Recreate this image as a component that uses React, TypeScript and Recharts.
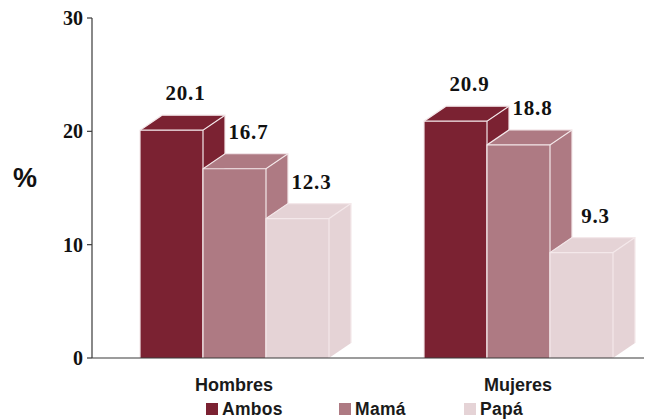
import React from 'react'
import { BarChart, Bar, XAxis, YAxis, Legend, LabelList } from 'recharts'

const groups = ['Hombres', 'Mujeres']
const ambos = [20.1, 20.9]
const mama = [16.7, 18.8]
const papa = [12.3, 9.3]
const yTicks = [0, 10, 20, 30]

const seriesKeys = ['ambos', 'mama', 'papa']
const seriesNames = ['Ambos', 'Mamá', 'Papá']
const seriesColors = ['#7B2232', '#AE7A83', '#E5D3D6']

const data = groups.map((g, i) => ({
  group: g,
  ambos: ambos[i],
  mama: mama[i],
  papa: papa[i],
}))

const SERIF = "'Liberation Serif', 'Times New Roman', serif"
const SANS = "'Liberation Sans', Arial, sans-serif"
const AXIS = '#3a3a3a'
const EDGE = '#F4E8EA'
const DX = 22
const DY = 15

// front face + top + right side, like the old excel 3d columns
const Bar3D = (props: any) => {
  const { x, y, width, height, fill } = props
  if (height == null || width == null) return null
  const r = x + width
  const b = y + height
  return (
    <g>
      <polygon
        points={`${r},${y} ${r + DX},${y - DY} ${r + DX},${b - DY} ${r},${b}`}
        fill={fill}
      />
      <polygon
        points={`${x},${y} ${x + DX},${y - DY} ${r + DX},${y - DY} ${r},${y}`}
        fill={fill}
      />
      <rect x={x} y={y} width={width} height={height} fill={fill} />
      <polyline
        points={`${x},${b} ${x},${y} ${x + DX},${y - DY} ${r + DX},${y - DY} ${r + DX},${b - DY}`}
        fill="none"
        stroke={EDGE}
        strokeWidth={1.2}
      />
      <polyline
        points={`${x},${y} ${r},${y} ${r + DX},${y - DY}`}
        fill="none"
        stroke={EDGE}
        strokeWidth={1.2}
      />
      <line x1={r} y1={y} x2={r} y2={b} stroke={EDGE} strokeWidth={1.2} />
    </g>
  )
}

const renderValue = (props: any) => {
  const { x, y, width, value } = props
  return (
    <text
      x={x + width / 2 + 14}
      y={y - 30}
      textAnchor="middle"
      fontFamily={SERIF}
      fontWeight={700}
      fontSize={21}
      letterSpacing={0.8}
      fill="#111"
    >
      {value}
    </text>
  )
}

const legendLeft = [198, 331, 456]

const renderLegend = () => (
  <div
    style={{
      position: 'relative',
      height: 18,
      fontFamily: SANS,
      fontWeight: 700,
      fontSize: 17.5,
      color: '#1a1a1a',
    }}
  >
    {seriesNames.map((n, i) => (
      <div
        key={n}
        style={{
          position: 'absolute',
          left: legendLeft[i],
          top: 0,
          display: 'flex',
          alignItems: 'center',
          lineHeight: '18px',
          whiteSpace: 'nowrap',
          letterSpacing: 0.3,
        }}
      >
        <span
          style={{
            display: 'inline-block',
            width: 12,
            height: 12,
            background: seriesColors[i],
            marginRight: 4,
          }}
        />
        {n}
      </div>
    ))}
  </div>
)

export default function App() {
  return (
    <div style={{ width: 644, height: 411, overflow: 'hidden' }}>
      <BarChart
        width={660}
        height={411}
        data={data}
        margin={{ top: 10, right: 8, bottom: 31, left: 0 }}
        barGap={0}
        barSize={63}
      >
        <XAxis
          dataKey="group"
          interval={0}
          tickLine={false}
          tickSize={0}
          tickMargin={20}
          height={30}
          axisLine={{ stroke: AXIS, strokeWidth: 1.2 }}
          tick={{ fontFamily: SANS, fontWeight: 700, fontSize: 18, fill: '#1a1a1a' }}
        />
        <YAxis
          width={84}
          domain={[0, 30]}
          ticks={yTicks}
          interval={0}
          tickSize={5}
          tickMargin={4}
          axisLine={{ stroke: AXIS, strokeWidth: 1.2 }}
          tickLine={{ stroke: AXIS, strokeWidth: 1.2 }}
          tick={{ fontFamily: SERIF, fontWeight: 700, fontSize: 20, fill: '#111' }}
          label={{
            content: () => (
              <text
                x={5}
                y={179}
                fontFamily={SANS}
                fontWeight={700}
                fontSize={27}
                fill="#111"
              >
                %
              </text>
            ),
          }}
        />
        <Legend
          layout="horizontal"
          verticalAlign="middle"
          align="center"
          content={renderLegend}
          wrapperStyle={{ position: 'absolute', top: 392, left: 0, width: 660, height: 18 }}
        />
        {seriesKeys.map((k, i) => (
          <Bar
            key={k}
            dataKey={k}
            name={seriesNames[i]}
            fill={seriesColors[i]}
            shape={Bar3D}
            isAnimationActive={false}
          >
            <LabelList dataKey={k} content={renderValue} />
          </Bar>
        ))}
      </BarChart>
    </div>
  )
}
